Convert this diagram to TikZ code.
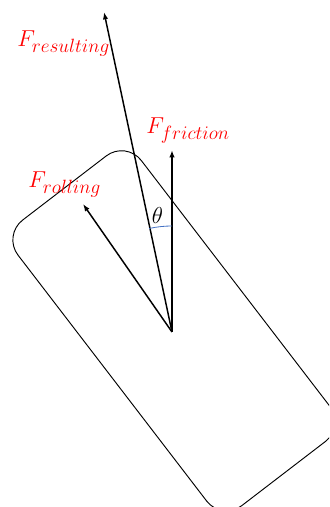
\documentclass[tikz,border=0pt]{standalone}
\usetikzlibrary{arrows.meta,calc}
\definecolor{arcblue}{RGB}{68,114,196}
\newcommand{\forcelabel}[1]{$F_{\hbox{\fontsize{14.5}{17}\selectfont$#1$}}$}
\begin{document}
\begin{tikzpicture}[x=0.75pt,y=0.75pt,
  force/.style={line width=1.1pt,-{Latex[length=5.5pt,width=4pt]}},
  body/.style={line width=0.7pt,rounded corners=18.75pt},
  flabel/.style={text=red,font=\fontsize{16}{19}\selectfont,inner sep=0pt,anchor=base west},
  anglelabel/.style={font=\fontsize{16}{19}\selectfont,inner sep=0pt}]
\useasboundingbox (0,0) rectangle (329,507);
\clip (0,0) rectangle (329,507);
% body corners
\coordinate (rt) at (126.1,366.3);
\coordinate (rr) at (345.2,80.7);
\coordinate (rb) at (221.9,-13.9);
\coordinate (rl) at (2.8,271.7);
\coordinate (rm) at ($(rl)!0.5!(rt)$);
\draw[body] (rm) -- (rt) -- (rr) -- (rb) -- (rl) -- (rm);
% forces
\coordinate (O) at (172,175);
\coordinate (Ffr) at (172,357);
\coordinate (Fres) at (104,495);
\coordinate (Frol) at (83,303);
\draw[force] (O) -- (Ffr);
\draw[force] (O) -- (Fres);
\draw[force] (O) -- (Frol);
% angle
\draw[arcblue,line width=0.6pt] (O) ++(90:106) arc[start angle=90,end angle=102.5,radius=106];
\node[anglelabel] (th) at (157.5,291.5) {$\theta$};
% labels
\node[flabel] (lres) at (17,460) {\forcelabel{resulting}};
\node[flabel] (lfr) at (146,373) {\forcelabel{friction}};
\node[flabel] (lrol) at (28,319) {\forcelabel{rolling}};
\end{tikzpicture}
\end{document}
